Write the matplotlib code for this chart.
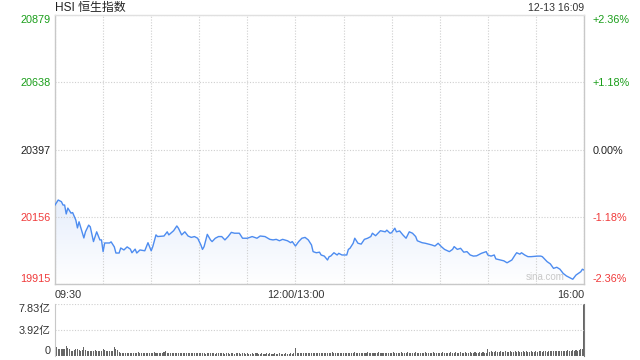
import numpy as np
import matplotlib
matplotlib.use('Agg')
import matplotlib.pyplot as plt
from matplotlib.colors import LinearSegmentedColormap

plt.rcParams['font.family'] = ['Liberation Sans', 'Noto Sans CJK SC', 'DejaVu Sans']

# ---- data ----
prev_close = 20397
price_ticks = [19915, 20156, 20397, 20638, 20879]

times = ['09:30', '09:32', '09:34', '09:35', '09:36', '09:37', '09:38', '09:40', '09:41', '09:43',
         '09:44', '09:45', '09:48', '09:49', '09:51', '09:52', '09:54', '09:56', '09:58', '09:59',
         '10:00', '10:01', '10:04', '10:05', '10:07', '10:08', '10:10', '10:11', '10:13', '10:15',
         '10:17', '10:18', '10:20', '10:21', '10:23', '10:26', '10:28', '10:30', '10:31', '10:33',
         '10:34', '10:38', '10:40', '10:41', '10:44', '10:46', '10:47', '10:49', '10:51', '10:53',
         '10:55', '10:57', '10:59', '11:01', '11:02', '11:03', '11:05', '11:07', '11:08', '11:10',
         '11:12', '11:14', '11:16', '11:18', '11:20', '11:22', '11:25', '11:27', '11:30', '11:33',
         '11:36', '11:38', '11:41', '11:44', '11:46', '11:48', '11:50', '11:52', '11:55', '11:57',
         '11:58', '13:00', '13:02', '13:04', '13:06', '13:08', '13:10', '13:11', '13:13', '13:15',
         '13:16', '13:18', '13:20', '13:21', '13:22', '13:24', '13:26', '13:27', '13:29', '13:32',
         '13:33', '13:34', '13:36', '13:37', '13:39', '13:41', '13:43', '13:45', '13:47', '13:48',
         '13:50', '13:53', '13:56', '13:57', '13:59', '14:00', '14:02', '14:03', '14:05', '14:07',
         '14:09', '14:11', '14:13', '14:15', '14:16', '14:19', '14:21', '14:25', '14:27', '14:29',
         '14:31', '14:33', '14:36', '14:38', '14:39', '14:41', '14:43', '14:45', '14:47', '14:49',
         '14:51', '14:53', '14:56', '14:59', '15:00', '15:02', '15:04', '15:05', '15:08', '15:10',
         '15:12', '15:15', '15:17', '15:18', '15:20', '15:21', '15:23', '15:25', '15:27', '15:31',
         '15:33', '15:34', '15:37', '15:39', '15:41', '15:43', '15:45', '15:47', '15:49', '15:52',
         '15:53', '15:55', '15:58', '15:59', '16:00']
prices = [20198, 20216, 20210, 20198, 20198, 20166, 20187, 20169, 20171, 20144,
          20116, 20138, 20080, 20102, 20126, 20120, 20067, 20102, 20073, 20073,
          20031, 20062, 20062, 20066, 20048, 20026, 20026, 20044, 20037, 20048,
          20040, 20027, 20040, 20026, 20037, 20034, 20063, 20034, 20049, 20091,
          20085, 20087, 20102, 20091, 20106, 20123, 20115, 20091, 20102, 20087,
          20082, 20085, 20079, 20055, 20039, 20049, 20093, 20073, 20067, 20079,
          20085, 20085, 20073, 20085, 20100, 20097, 20097, 20079, 20079, 20085,
          20079, 20087, 20085, 20075, 20073, 20075, 20070, 20075, 20070, 20063,
          20067, 20051, 20067, 20079, 20082, 20073, 20055, 20031, 20027, 20029,
          20019, 20015, 20001, 20013, 20015, 20027, 20019, 20025, 20019, 20019,
          20039, 20043, 20061, 20079, 20061, 20058, 20075, 20079, 20085, 20097,
          20088, 20106, 20102, 20108, 20097, 20099, 20115, 20102, 20105, 20091,
          20079, 20102, 20097, 20085, 20070, 20063, 20061, 20055, 20051, 20061,
          20049, 20039, 20031, 20039, 20049, 20039, 20043, 20029, 20031, 20019,
          20015, 20016, 20025, 20031, 20019, 20015, 20019, 20005, 20001, 19998,
          19991, 20001, 20019, 20027, 20022, 20027, 20019, 20013, 20013, 20015,
          20015, 20013, 19995, 19987, 19971, 19975, 19968, 19953, 19944, 19935,
          19932, 19947, 19959, 19968, 19965]

# turnover per minute, in 亿 (09:30 ... 11:59, 13:00 ... 16:00)
vol_am = [3.66, 1.4, 1.0, 1.0, 1.0, 1.1, 1.0, 1.5, 1.2, 1.0, 0.8, 0.8, 0.9, 1.1, 1.0,
          0.9, 0.8, 0.9, 1.3, 0.9, 0.8, 0.8, 0.8, 0.8, 0.8, 0.9, 0.8, 0.8, 0.8, 0.8,
          1.1, 0.9, 0.8, 0.7, 0.8, 0.7, 0.8, 1.4, 1.0, 0.9, 0.6, 0.5, 0.5, 0.4, 0.5,
          0.5, 0.4, 0.5, 0.5, 0.4, 0.5, 0.5, 0.6, 0.5, 0.4, 0.5, 0.5, 0.4, 0.5, 0.5,
          0.5, 0.5, 0.6, 0.5, 0.5, 0.4, 0.5, 0.5, 0.6, 0.8, 0.5, 0.4, 0.5, 0.5, 0.4,
          0.5, 0.4, 0.4, 0.5, 0.4, 0.5, 0.4, 0.4, 0.5, 0.4, 0.4, 0.5, 0.4, 0.4, 0.5,
          0.4, 0.4, 0.5, 0.4, 0.3, 0.4, 0.4, 0.5, 0.4, 0.4, 0.3, 0.4, 0.4, 0.5, 0.4,
          0.4, 0.3, 0.4, 0.4, 0.3, 0.4, 0.4, 0.3, 0.4, 0.5, 0.4, 0.3, 0.4, 0.4, 0.3,
          0.4, 0.3, 0.3, 0.4, 0.3, 0.4, 0.4, 0.3, 0.3, 0.4, 0.3, 0.3, 0.4, 0.3, 0.4,
          0.3, 0.3, 0.4, 0.3, 0.3, 0.4, 0.3, 0.3, 0.3, 0.4, 0.3, 0.3, 0.4, 0.3, 0.4]
vol_pm = [1.25, 0.5, 0.4, 0.5, 0.4, 0.4, 0.5, 0.4, 0.4, 0.5, 0.4, 0.5, 0.4, 0.4, 0.5,
          0.4, 0.4, 0.5, 0.4, 0.5, 0.4, 0.4, 0.5, 0.6, 0.4, 0.5, 0.4, 0.5, 0.4, 0.5,
          0.5, 0.4, 0.5, 0.4, 0.5, 0.5, 0.4, 0.6, 0.5, 0.4, 0.5, 0.5, 0.4, 0.5, 0.5,
          0.6, 0.5, 0.4, 0.5, 0.5, 0.4, 0.5, 0.6, 0.5, 0.4, 0.5, 0.5, 0.5, 0.4, 0.5,
          0.5, 0.6, 0.5, 0.4, 0.5, 0.5, 0.6, 0.5, 0.4, 0.5, 0.6, 0.5, 0.5, 0.4, 0.5,
          0.6, 0.5, 0.5, 0.4, 0.5, 0.5, 0.6, 0.5, 0.5, 0.4, 0.5, 0.6, 0.5, 0.5, 0.5,
          0.5, 0.5, 0.6, 0.5, 0.5, 0.4, 0.5, 0.6, 0.5, 0.5, 0.6, 0.5, 0.5, 0.6, 0.5,
          0.5, 0.6, 0.5, 0.5, 0.6, 0.5, 0.5, 0.6, 0.5, 0.5, 0.6, 0.5, 0.6, 0.5, 0.5,
          1.0, 0.6, 0.7, 0.6, 0.6, 0.7, 0.6, 0.6, 0.7, 0.6, 0.6, 0.7, 0.6, 0.6, 0.7,
          0.6, 0.6, 0.7, 0.6, 0.7, 0.6, 0.6, 0.7, 0.6, 0.7, 0.6, 0.6, 0.7, 0.6, 0.6,
          0.7, 0.6, 0.7, 0.7, 0.6, 0.7, 0.7, 0.6, 0.8, 0.7, 0.7, 0.8, 0.7, 0.8, 0.7,
          0.8, 0.8, 0.7, 0.8, 0.8, 0.9, 0.8, 0.8, 0.9, 0.8, 0.9, 0.8, 0.9, 1.0, 1.0,
          7.83]
vol_ticks = [0, 3.92, 7.83]


def trade_min(s):
    h, m = map(int, s.split(':'))
    t = h * 60 + m
    return t - 570 if t <= 720 else t - 630


x = np.array([trade_min(t) for t in times])
p = np.array(prices)
vol = np.array(vol_am + vol_pm)
vx = np.arange(len(vol))

UP, DOWN = '#1a9e1a', '#f03a3a'
GRID = '#cfcfcf'
SPINE = '#c8c8c8'

fig = plt.figure(figsize=(6.4, 3.6), dpi=100)
ax = fig.add_axes([55/640, 1-284/360, 529/640, 269/360])
ymin, ymax = price_ticks[0], price_ticks[-1]
ax.set_xlim(0, 330)
ax.set_ylim(ymin, ymax)

# gradient fill under line
poly = ax.fill_between(x, p, ymin, color='none', lw=0)
cmap = LinearSegmentedColormap.from_list('g', ['#ffffff', '#e6eefc'])
grad = np.linspace(0, 1, 256).reshape(-1, 1)
im = ax.imshow(grad, extent=[0, 330, ymin, p.max()], aspect='auto', origin='lower',
               cmap=cmap, zorder=1)
im.set_clip_path(poly.get_paths()[0], transform=ax.transData)
ax.plot(x, p, color='#4d8cf0', lw=1.0, zorder=3)

ax.set_xticks([0, 150, 330], ['09:30', '12:00/13:00', '16:00'])
ax.set_xticks(range(30, 330, 30), minor=True)
xl = ax.get_xticklabels()
xl[0].set_ha('left')
xl[2].set_ha('right')
ax.tick_params(axis='x', which='both', length=0, pad=4, labelsize=7.8, labelcolor='#333333')
ax.set_yticks(price_ticks, [str(v) for v in price_ticks])
ax.tick_params(axis='y', length=0, pad=3, labelsize=7.8)
yl = ax.get_yticklabels()
for lab, v in zip(yl, price_ticks):
    lab.set_color(UP if v > prev_close else DOWN if v < prev_close else '#222222')
yl[0].set_va('bottom')
yl[-1].set_va('top')
ax.grid(True, which='both', axis='x', color=GRID, ls=(0, (1, 1.5)), lw=0.8)
ax.grid(True, which='major', axis='y', color=GRID, ls=(0, (1, 1.5)), lw=0.8)
for s in ax.spines.values():
    s.set_color(SPINE)
    s.set_linewidth(1.0)
ax.spines['top'].set_color('#e0e0e0')

ax2 = ax.twinx()
ax2.set_ylim(ymin, ymax)
pct = [(v - prev_close) / prev_close * 100 for v in price_ticks]
ax2.set_yticks(price_ticks, [('+' if q > 0.005 else '') + '%.2f%%' % q for q in pct])
ax2.tick_params(axis='y', length=0, pad=6, labelsize=7.8)
yr = ax2.get_yticklabels()
for lab, v in zip(yr, price_ticks):
    lab.set_color(UP if v > prev_close else DOWN if v < prev_close else '#222222')
yr[0].set_va('bottom')
yr[-1].set_va('top')
for s in ax2.spines.values():
    s.set_visible(False)

ax.text(0.964, 0.008, 'sina.com', transform=ax.transAxes, ha='right', va='bottom',
        fontsize=7, color='#c8c8c8', zorder=4)

fig.text(55/640, 1-8/360, 'HSI 恒生指数', fontsize=8.6, color='#222222', va='center', ha='left')
fig.text(584/640, 1-8/360, '12-13 16:09', fontsize=7.6, color='#333333', va='center', ha='right')

# volume panel
axv = fig.add_axes([55/640, 1-356/360, 529/640, 52/360])
axv.bar(vx, vol, width=0.65, color='#666666', lw=0)
axv.set_xlim(0, 330)
axv.set_ylim(0, vol_ticks[-1])
axv.set_xticks([])
axv.set_yticks(vol_ticks, ['0', '3.92亿', '7.83亿'])
axv.tick_params(axis='y', length=0, pad=3, labelsize=7.8, labelcolor='#333333')
vl = axv.get_yticklabels()
vl[0].set_va('bottom')
vl[-1].set_va('top')
axv.grid(True, axis='y', color=GRID, ls=(0, (1, 1.5)), lw=0.8)
axv.spines['top'].set_visible(False)
axv.spines['bottom'].set_visible(False)
axv.spines['left'].set_color(SPINE)
axv.spines['right'].set_color('#777777')

fig.savefig('out.png', dpi=100)
